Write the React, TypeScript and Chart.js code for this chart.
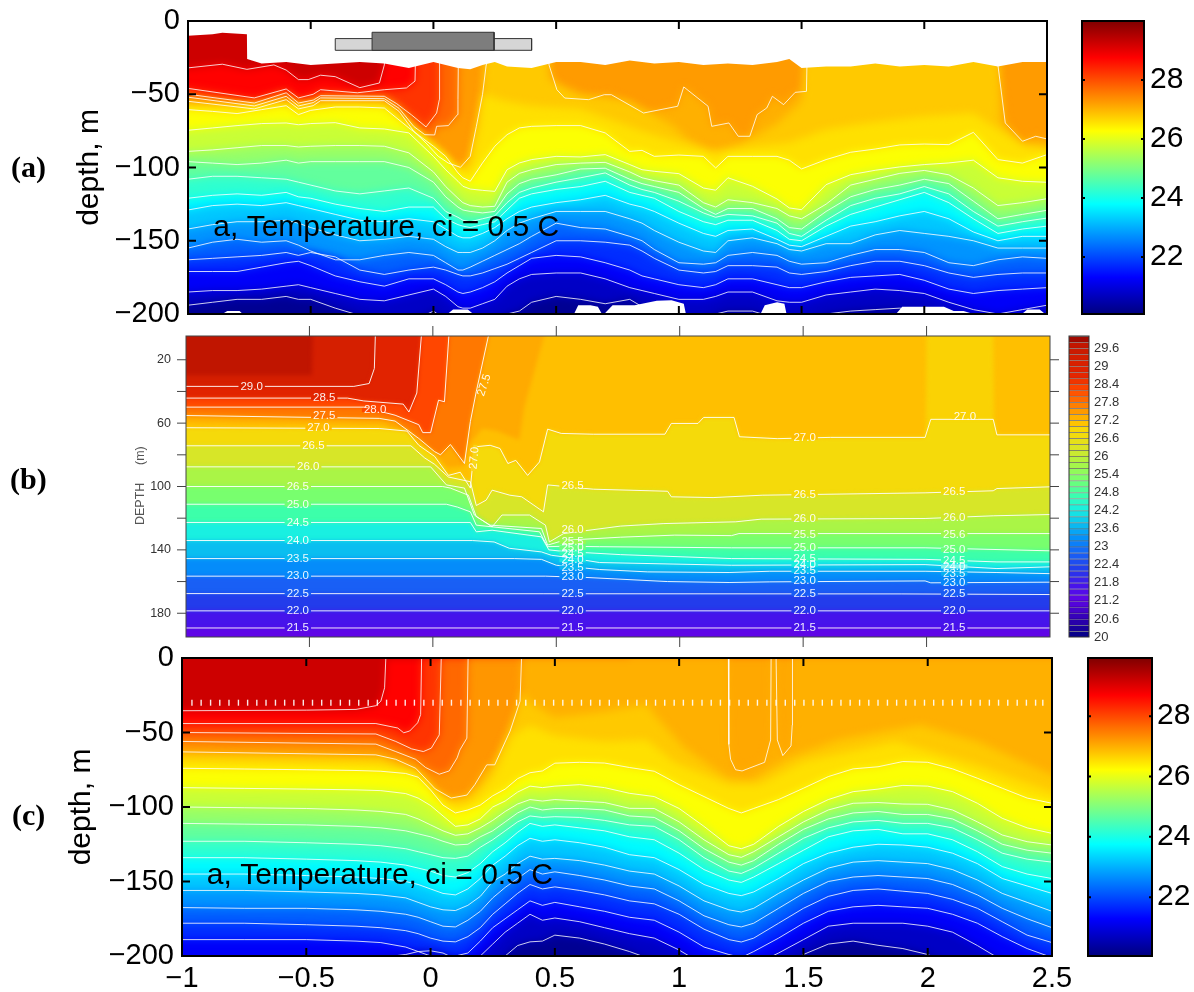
import React, { useEffect, useRef } from "react";
import { Chart, registerables } from "chart.js";

Chart.register(...registerables);

const FONT = "'Liberation Sans', Arial, sans-serif";

// ---------- shared ticks ----------
const xTickValues = [-1, -0.5, 0, 0.5, 1, 1.5, 2, 2.5];
const yTickValues = [-200, -150, -100, -50, 0];
const barTicks = [22, 24, 26, 28];
const bDepthTicks = [20, 40, 60, 80, 100, 120, 140, 160, 180];
const bDepthLabels = [20, 60, 100, 140, 180];
const bBarTicks = [20, 20.6, 21.2, 21.8, 22.4, 23, 23.6, 24.2, 24.8, 25.4, 26, 26.6, 27.2, 27.8, 28.4, 29, 29.6];
const bBarEdges = [20, 20.2, 20.4, 20.6, 20.8, 21, 21.2, 21.4, 21.6, 21.8, 22, 22.2, 22.4, 22.6, 22.8, 23, 23.2, 23.4, 23.6, 23.8, 24, 24.2, 24.4, 24.6, 24.8, 25, 25.2, 25.4, 25.6, 25.8, 26, 26.2, 26.4, 26.6, 26.8, 27, 27.2, 27.4, 27.6, 27.8, 28, 28.2, 28.4, 28.6, 28.8, 29, 29.2, 29.4, 29.6, 29.8, 30];

// ---------- panel (a): observed section ----------
const aSurfaceX = [-1, -0.9, -0.86, -0.76, -0.759, -0.7, -0.6, -0.5, -0.4, -0.3, -0.2, -0.1, 0, 0.05, 0.1, 0.15, 0.2, 0.25, 0.3, 0.4, 0.5, 0.6, 0.7, 0.8, 0.9, 1, 1.1, 1.2, 1.3, 1.4, 1.45, 1.5, 1.6, 1.7, 1.8, 1.9, 2, 2.1, 2.2, 2.3, 2.4, 2.5];
const aSurfaceD = [-10, -9, -8, -9, -26, -29, -28, -30, -29, -28, -29, -32, -28, -30, -32, -33, -30, -28, -31, -32, -28, -28, -30, -27, -29, -28, -30, -29, -30, -28, -26, -32, -31, -31, -29, -31, -30, -31, -28, -31, -28, -28];
const aHolesX = [-1, -0.87, -0.84, -0.79, -0.77, 0.05, 0.08, 0.14, 0.17, 0.57, 0.59, 0.64, 0.67, 0.69, 0.73, 0.82, 0.91, 0.97, 1.02, 1.03, 1.33, 1.35, 1.4, 1.43, 1.44, 1.88, 1.91, 2.0, 2.08, 2.12, 2.16, 2.22, 2.39, 2.42, 2.47, 2.5];
const aHolesD = [-201, -201, -198, -198, -201, -201, -197, -197, -201, -201, -194, -194, -195, -201, -194, -194, -191, -190.6, -193, -201, -201, -194, -192, -193, -201, -201, -195, -195, -195, -198, -198, -201, -201, -197, -197, -201];
const aShelfX = [-0.4, -0.4, 0.4, 0.4, -0.4];
const aShelfD = [-20, -12, -12, -20, -20];
const aRidgeX = [-0.25, -0.25, 0.247, 0.247, -0.25];
const aRidgeD = [-20, -7.7, -7.7, -20, -20];

const a290X = [-1, -0.86, -0.76, -0.65, -0.6, -0.55, -0.51, -0.46, -0.4, -0.3, -0.22, -0.2, -0.19, 2.5];
const a290D = [-32, -29.5, -33, -30, -33.5, -40, -40, -37, -38, -45.5, -42.3, -30, 0, 0];
const a285X = [-1, -0.73, -0.6, -0.55, -0.49, -0.46, -0.31, -0.2, -0.11, -0.075, -0.07, 2.5];
const a285D = [-46, -52.5, -46.4, -52.5, -50, -46.9, -49, -46.9, -45.7, -41, 0, 0];
const a280X = [-1, -0.73, -0.6, -0.55, -0.49, -0.46, -0.2, -0.15, -0.09, -0.03, 0.013, 0.024, 0.025, 2.5];
const a280D = [-50, -56, -49, -56, -54, -51, -51.4, -56.4, -64, -72.3, -62.8, -53.7, 0, 0];
const a275X = [-1, -0.73, -0.6, -0.55, -0.49, -0.46, -0.2, -0.14, -0.08, -0.035, 0.005, 0.013, 0.061, 0.098, 0.1, 0.103, 2.5];
const a275D = [-52, -58, -51.4, -58, -55.7, -52.5, -53, -59.6, -72, -77.6, -77.8, -71.9, -71.4, -63.9, -53.7, 0, 0];
const a270X = [-1, -0.73, -0.6, -0.55, -0.49, -0.46, -0.2, -0.14, -0.08, -0.03, 0.02, 0.06, 0.11, 0.15, 0.175, 0.2, 0.215, 0.216, 0.47, 0.471, 0.503, 0.535, 0.632, 0.696, 0.725, 0.856, 0.995, 1.02, 1.119, 1.134, 1.204, 1.242, 1.289, 1.319, 1.358, 1.381, 1.427, 1.474, 1.52, 1.525, 2.299, 2.3, 2.33, 2.4, 2.454, 2.5];
const a270D = [-54.8, -60, -53.7, -60, -57.8, -54.4, -54.4, -61.7, -75.3, -83.3, -92.4, -96.9, -99.9, -92.4, -71.9, -50.3, -30, 0, 0, -30, -46.9, -52.6, -53.7, -50.3, -50.3, -62.8, -58.2, -45, -58.2, -71.9, -69.6, -78.7, -78.7, -63.9, -59.4, -51.4, -57.1, -48.7, -48, 0, 0, -30, -69.6, -82.1, -78.7, -80.5];
// fill-only colour boundaries read from the orange zone
const a2685X = [-1, -0.2, -0.1, 0, 0.1, 0.15, 0.19, 0.2, 0.216, 0.46, 0.47, 0.6, 0.8, 0.98, 1.03, 1.13, 1.24, 1.4, 1.5, 1.52, 2.3, 2.31, 2.4, 2.5];
const a2685D = [-57, -57, -70, -85, -101, -95, -60, -55, 0, 0, -40, -50, -55, -72, -80, -90, -85, -70, -55, 0, 0, -70, -85, -85];
const a2665X = [-1, -0.2, -0.1, 0.1, 0.15, 0.19, 0.2, 0.3, 0.4, 0.6, 0.7, 0.85, 1, 1.15, 1.3, 1.45, 1.6, 1.75, 2, 2.2, 2.3, 2.4, 2.5];
const a2665D = [-59, -58, -72, -103, -100, -70, -50, -55, -58, -60, -66, -75, -83, -90, -85.5, -83, -74, -70, -65, -63, -74, -85, -88];

const aGridX = [-1, -0.9, -0.8, -0.7, -0.6, -0.55, -0.5, -0.4, -0.3, -0.2, -0.1, 0, 0.05, 0.1, 0.12, 0.15, 0.2, 0.25, 0.3, 0.35, 0.4, 0.5, 0.6, 0.7, 0.8, 0.85, 0.9, 1, 1.1, 1.15, 1.2, 1.3, 1.4, 1.45, 1.5, 1.6, 1.7, 1.8, 1.9, 2, 2.1, 2.2, 2.3, 2.4, 2.5];
const a265 = [-60.5, -61.7, -63.2, -60.5, -57.8, -63.9, -61, -58.7, -58.7, -59.4, -73, -85.5, -92.4, -103.7, -107, -109.4, -96.9, -85.5, -77.6, -73, -71.9, -71.4, -71.4, -76.4, -89, -88.3, -92.4, -91.5, -92.4, -100.3, -92.4, -92.4, -92.4, -95, -101, -94.6, -89.6, -87.4, -84.6, -84, -84.4, -76, -94.6, -97, -91.2];
const a260 = [-74.6, -73, -71.4, -70, -69.6, -70.8, -70, -69.4, -73, -73.7, -76.4, -92.4, -101.5, -109.4, -112.8, -114.7, -115.6, -116.3, -101.5, -96.9, -94.6, -92.4, -92.8, -91.2, -98, -101.5, -102.6, -104.2, -114, -115.5, -107, -112.8, -121.5, -127.6, -128.8, -111.7, -104.9, -101.9, -99.6, -98, -96.9, -95, -107, -109.4, -110.1];
const a255 = [-89, -88, -86.5, -85, -85, -86, -85.5, -85, -85, -85.5, -90, -103, -113, -121, -124, -126, -127, -126.5, -110, -104, -101.5, -98, -97, -96.5, -103, -107, -109, -112, -124, -127, -122, -124, -128, -133, -135, -125, -112, -108, -104, -102, -105, -114, -126, -124, -121.3];
const a250 = [-96, -97, -98, -97, -95, -97, -96, -96, -96, -96, -100, -110, -120, -127, -129, -130, -131, -130, -118, -111, -108, -105, -101, -100.5, -108, -111, -113, -117, -128, -132, -128, -128, -135, -141, -142, -130, -120, -115, -112, -108, -111, -123, -135, -132, -129.2];
const a245 = [-108, -106, -106, -107, -108, -110, -112, -116, -118, -116, -114, -121, -130, -134, -136, -137, -135, -133, -124, -117, -114, -110, -107, -103.7, -112, -115, -117, -123, -131, -134, -132, -133, -138, -145, -147, -136, -126, -121, -118, -113, -118, -130, -140, -137, -134.5];
const a240 = [-121, -119, -118, -119, -117, -120, -121, -125, -128, -130, -127, -127, -135, -139, -140, -141, -139, -137, -129, -121, -118, -115, -113, -109.4, -117, -119, -121, -130, -137, -139, -136, -136, -143, -149, -150, -140, -132, -127, -122, -117, -124, -135, -145, -142, -140];
const a235 = [-129, -126, -125, -126, -124, -126, -128, -132, -136, -137, -135, -137, -142, -147, -148, -148, -145, -141, -135, -130, -127, -124, -122, -119, -125, -127, -130, -138, -145, -147, -143, -142, -149, -153, -154, -147, -140, -137, -133, -130, -135, -144, -150, -147, -147];
const a230 = [-142, -139, -137, -137, -136, -138, -141, -146, -150, -149, -147, -149, -154, -158, -158, -158, -155, -150, -143, -138, -135, -130, -130, -130, -135, -138, -143, -151, -157, -158, -150, -148, -152, -156, -157, -152, -152, -146, -143, -145, -147, -150, -155, -155, -155];
const a225 = [-155, -151, -149, -151, -150, -153, -157, -163, -163, -160, -158, -160, -165, -170, -170, -168, -164, -160, -156, -152, -147, -138, -141, -142, -147, -150, -156, -165, -166, -165, -160, -158, -160, -164, -166, -165, -160, -156, -156, -158, -165, -167, -163, -161, -162];
const a220 = [-163, -162, -161, -160, -158, -160, -158, -161, -170, -173, -170, -168, -170, -173, -174, -174, -172, -169, -166, -162, -158, -150, -150, -151, -153, -157, -162, -170, -172, -171, -167, -167, -168, -172, -173, -171, -167, -164, -164, -167, -172, -175, -173, -172, -172];
const a215 = [-171, -171, -171, -168, -165, -164, -167, -174, -178, -181, -176, -176, -180, -185, -186, -185, -182, -178, -172, -167, -162, -160, -161, -165, -170, -174, -176, -180, -182, -180, -176, -176, -180, -182, -182, -178, -175, -174, -173, -177, -183, -186, -184, -183, -182];
const a210 = [-185, -184, -184, -183, -181, -180, -182, -186, -190, -191, -187, -183, -188, -195, -196, -196, -193, -190, -181, -176, -173, -172, -172, -176, -182, -184, -186, -190, -190, -188, -185, -185, -191, -192, -192, -187, -185, -183, -184, -186, -192, -197, -200, -197, -194];
const a205 = [-194, -192, -190, -190, -188, -190, -190, -196, -201, -205, -206, -198, -204, -210, -212, -212, -210, -205, -200, -198, -192, -188, -190, -193, -190, -195, -198, -204, -204, -200, -198, -198, -203, -205, -205, -200, -198, -197, -196, -198, -205, -210, -212, -210, -208];

// ---------- panel (b): model section ----------
const b2950X = [-1, -0.49, -0.485, 2.5];
const b2950D = [29.7, 29.7, 0, 0];
const b290X = [-1, -0.32, -0.258, -0.237, -0.232, 2.5];
const b290D = [36.8, 36.8, 35, 25.5, 0, 0];
const b285X = [-1, -0.346, -0.28, -0.12, -0.097, -0.065, -0.044, 2.5];
const b285D = [44.2, 44.2, 46, 48, 53, 41, 0, 0];
const b280X = [-1, -0.28, -0.153, -0.057, -0.041, -0.009, 0.023, 0.047, 0.067, 2.5];
const b280D = [49.9, 49.9, 55, 61, 66, 66, 45.5, 46.5, 0, 0];
const b275X = [-1, -0.217, -0.153, -0.057, 0.007, 0.031, 0.071, 0.128, 0.152, 0.176, 0.232, 2.5];
const b275D = [55.2, 57, 58.7, 69.7, 78, 80, 73.5, 85.5, 59, 40, 0, 0];
const b2725X = [-1, -0.2, -0.057, 0.007, 0.06, 0.13, 0.15, 0.2, 0.26, 0.35, 0.37, 0.46, 2.5];
const b2725D = [59, 60.5, 72, 80, 88, 87, 73, 63.4, 65, 70.7, 50, 0, 0];
const b2705X = [-1, 1.99, 2, 2.27, 2.28, 2.5];
const b2705D = [190, 190, 0, 0, 190, 190];
const b270X = [-1, -0.217, -0.105, -0.057, 0.007, 0.063, 0.111, 0.152, 0.168, 0.232, 0.272, 0.304, 0.336, 0.384, 0.432, 0.465, 0.52, 0.65, 0.94, 0.966, 1.074, 1.097, 1.22, 1.242, 1.395, 1.61, 1.994, 2.017, 2.27, 2.285, 2.5];
const b270D = [62.9, 63.4, 65, 74, 81, 93, 91, 101, 75, 74, 76, 85.5, 83.5, 93, 84.5, 63.8, 66.5, 67, 67, 60.2, 60.2, 56.4, 56.4, 68.6, 69.8, 69, 69, 57.6, 57.6, 67.4, 67.4];
const b265X = [-1, -0.089, -0.033, 0.007, 0.063, 0.152, 0.176, 0.216, 0.24, 0.312, 0.36, 0.448, 0.465, 0.65, 0.951, 0.966, 1.135, 1.334, 1.994, 2.27, 2.285, 2.5];
const b265D = [74.3, 74.3, 82, 86, 94, 97, 112, 108.6, 102.3, 105.5, 106.5, 116, 99, 101.7, 103, 106.5, 107, 105.5, 104, 102.7, 101.3, 100.2];
const b260X = [-1, -0.009, 0.055, 0.128, 0.168, 0.24, 0.28, 0.392, 0.456, 0.472, 0.53, 0.76, 0.936, 1.227, 1.33, 1.994, 2.27, 2.5];
const b260D = [87.6, 87.6, 99, 101, 118, 125.5, 118, 118, 124.4, 135, 129.7, 125, 123.4, 122.3, 120.6, 120.2, 118.5, 117.7];
const b255X = [-1, 0.04, 0.071, 0.144, 0.176, 0.232, 0.44, 0.465, 0.53, 0.76, 0.98, 1.21, 1.24, 2.5];
const b255D = [100, 100, 101, 105.5, 119, 124.4, 126.5, 137, 134, 132, 130.7, 131, 129.7, 129.7];
const b250X = [-1, 0.055, 0.1, 0.152, 0.176, 0.432, 0.465, 0.53, 0.675, 1.21, 1.994, 2.5];
const b250D = [111.2, 111.2, 113, 116, 124.4, 128.6, 138, 137.7, 138, 138.7, 138.7, 140.6];
const b245X = [-1, 0.152, 0.176, 0.24, 0.44, 0.47, 0.53, 0.76, 1.21, 1.994, 2.285, 2.5];
const b245D = [122.7, 122.7, 128.6, 127.6, 131.8, 140, 141, 143, 145.5, 146, 147.6, 147.6];
const b240X = [-1, 0.16, 0.248, 0.31, 0.44, 0.48, 0.53, 0.675, 1.21, 1.994, 2.285, 2.5];
const b240D = [134.1, 134.1, 135, 139, 141.3, 143.4, 144.4, 148, 149.7, 149.3, 151.8, 150.7];
const b235X = [-1, 0.33, 0.44, 0.5, 0.675, 0.87, 1.2, 1.365, 1.994, 2.285, 2.5];
const b235D = [145.5, 145.5, 146, 149.7, 152.4, 153.9, 154.3, 153.5, 153.5, 154.3, 155];
const b230X = [-1, 0.457, 0.62, 0.95, 1.2, 1.365, 1.994, 2.017, 2.5];
const b230D = [156.6, 156.6, 157.4, 160, 160.6, 160.2, 159.6, 160.8, 160.4];
const b225X = [-1, 1.9, 2.5];
const b225D = [167.6, 167.8, 168.2];
const b220X = [-1, 2.5];
const b220D = [178.5, 178.5];
const b215X = [-1, 2.5];
const b215D = [189.3, 189.3];

const bLabelText = ["29.0", "28.5", "28.0", "27.5", "27.0", "26.5", "26.0", "26.5", "25.0", "24.5", "24.0", "23.5", "23.0", "22.5", "22.0", "21.5",
  "26.5", "26.0", "25.5", "25.0", "24.5", "24.0", "23.5", "23.0", "22.5", "22.0", "21.5",
  "27.0", "26.5", "26.0", "25.5", "25.0", "24.5", "24.0", "23.5", "23.0", "22.5", "22.0", "21.5",
  "27.0", "26.5", "26.0", "25.6", "25.0", "24.5", "24.0", "23.5", "23.0", "22.5", "22.0", "21.5",
  "27.5", "27.0"];
const bLabelX = [-0.734, -0.44, -0.234, -0.44, -0.463, -0.484, -0.505, -0.547, -0.547, -0.547, -0.547, -0.547, -0.547, -0.547, -0.547, -0.547,
  0.566, 0.566, 0.566, 0.566, 0.566, 0.566, 0.566, 0.566, 0.566, 0.566, 0.566,
  1.506, 1.506, 1.506, 1.506, 1.506, 1.506, 1.506, 1.506, 1.506, 1.506, 1.506, 1.506,
  2.155, 2.112, 2.112, 2.112, 2.112, 2.112, 2.112, 2.112, 2.112, 2.112, 2.112, 2.112,
  0.208, 0.168];
const bLabelD = [36.8, 44.2, 51.8, 55.6, 63.2, 74.3, 87.6, 100, 111.4, 122.8, 134.2, 145.4, 156.6, 167.6, 178.5, 189.3,
  99.6, 127.6, 135, 138.7, 142.3, 146.5, 151.2, 157, 167.6, 178.5, 189.3,
  69, 105, 120.6, 130.3, 138.5, 145.5, 149.3, 153.3, 159.4, 167.8, 178.5, 189.3,
  56, 103.6, 119.6, 130.3, 140, 147, 150.5, 155, 161, 168, 178.5, 189.3,
  36, 82];
const bLabelAngle = [-72, -85]; // last two labels run along steep contours

const bStopT = [20, 20.5, 21.25, 21.75, 22.25, 22.75, 23.25, 23.75, 24.25, 24.75, 25.25, 25.75, 26.25, 26.75, 27, 27.1, 27.4, 27.75, 28.25, 28.75, 29.35, 29.8, 30];
const bStopR = [0, 40, 95, 70, 35, 25, 5, 10, 25, 60, 120, 170, 215, 245, 248, 255, 255, 255, 255, 225, 210, 190, 130];
const bStopG = [0, 0, 5, 20, 60, 95, 140, 190, 240, 255, 255, 245, 230, 218, 215, 195, 168, 120, 70, 35, 30, 20, 0];
const bStopB = [130, 170, 230, 235, 235, 245, 250, 240, 225, 170, 110, 70, 40, 10, 5, 0, 0, 0, 0, 0, 0, 0, 0];

// ---------- panel (c): simulated section ----------
const cDotsX = [-0.96, -0.923, -0.885, -0.848, -0.811, -0.773, -0.736, -0.699, -0.662, -0.624, -0.587, -0.55, -0.512, -0.475, -0.438, -0.401, -0.363, -0.326, -0.289, -0.251, -0.214, -0.177, -0.139, -0.102, -0.065, -0.027, 0.01, 0.047, 0.084, 0.122, 0.159, 0.196, 0.234, 0.271, 0.308, 0.346, 0.383, 0.42, 0.457, 0.495, 0.532, 0.569, 0.607, 0.644, 0.681, 0.719, 0.756, 0.793, 0.83, 0.868, 0.905, 0.942, 0.98, 1.017, 1.054, 1.092, 1.129, 1.166, 1.203, 1.241, 1.278, 1.315, 1.353, 1.39, 1.427, 1.465, 1.502, 1.539, 1.576, 1.614, 1.651, 1.688, 1.726, 1.763, 1.8, 1.838, 1.875, 1.912, 1.949, 1.987, 2.024, 2.061, 2.099, 2.136, 2.173, 2.211, 2.248, 2.285, 2.322, 2.36, 2.397, 2.434, 2.463];
const cDotDepth = -30;

const c290X = [-1, -0.5, -0.3, -0.22, -0.2, -0.185, -0.18, 2.5];
const c290D = [-35.4, -35, -34.5, -32, -29, -20, 0, 0];
const c285X = [-1, -0.22, -0.132, -0.108, -0.084, -0.052, -0.04, -0.036, 2.5];
const c285D = [-44, -44, -47, -50.2, -49, -43.5, -38, 0, 0];
const c280X = [-1, -0.22, -0.14, -0.076, -0.029, 0.003, 0.035, 0.043, 2.5];
const c280D = [-50, -51, -56, -61, -62.8, -60.5, -51.6, 0, 0];
const c275X = [-1, -0.22, -0.14, -0.06, -0.02, 0.035, 0.075, 0.107, 0.118, 0.146, 0.151, 2.5];
const c275D = [-56, -57.8, -62.8, -68, -73.5, -78, -75.8, -67, -61.7, -53.8, 0, 0];
// east of the front the warm pools inside the 27.0 line are nearly the colour around them
const c2710X = [-1, 0.8, 0.801, 2.5];
const c2710D = [-400, -400, 0, 0];
const c270X = [-1, -0.22, -0.14, -0.06, 0.019, 0.083, 0.146, 0.178, 0.226, 0.258, 0.32, 0.36, 0.366, 1.198, 1.2, 1.207, 1.227, 1.253, 1.344, 1.368, 1.37, 1.39, 1.395, 1.417, 1.45, 1.455, 1.456, 2.5];
const c270D = [-63, -65, -68, -74, -87.9, -94, -92, -85, -71.7, -71.7, -49, -29, 0, 0, -58, -68, -75, -75.8, -70, -55, 0, 0, -55, -65.5, -59, -45, 0, 0];
const c2685X = [-1, -0.2, -0.06, 0.02, 0.08, 0.15, 0.2, 0.25, 0.3, 0.36, 0.366, 0.4, 0.5, 0.7, 0.87, 0.9, 1.02, 1.2, 1.29, 1.44, 1.64, 1.97, 2.2, 2.5];
const c2685D = [-65, -68, -76, -90, -96, -94, -86, -73, -55, -30, -22, -30, -40, -36, -31, -38, -60, -81, -82, -67, -55, -45, -56, -78.5];
const c2665X = [-1, -0.2, -0.06, 0.02, 0.08, 0.15, 0.2, 0.258, 0.33, 0.4, 0.5, 0.7, 0.87, 0.98, 1.2, 1.32, 1.5, 1.87, 2.2, 2.5];
const c2665D = [-68, -70, -78, -92, -98, -97, -90, -78, -52, -45, -52, -56, -55, -70, -85, -85, -69.5, -56, -72, -90];

const cGridX = [-1, -0.75, -0.5, -0.3, -0.2, -0.1, -0.05, 0, 0.05, 0.1, 0.15, 0.2, 0.25, 0.3, 0.35, 0.4, 0.45, 0.5, 0.6, 0.7, 0.8, 0.9, 1, 1.1, 1.2, 1.25, 1.3, 1.4, 1.5, 1.6, 1.7, 1.8, 1.9, 2, 2.1, 2.2, 2.3, 2.4, 2.5];
const c265 = [-74, -74.5, -75, -75.5, -76, -77.5, -80, -88.6, -98.7, -104, -102, -98.7, -92.5, -88, -81, -77, -75.8, -70.6, -70, -70.5, -73.5, -76, -85, -93, -101, -104, -101, -95, -87.4, -79.6, -74.4, -73, -69.5, -70, -74.4, -80.7, -87.4, -94, -97.5];
const c260 = [-87, -87.5, -88, -88.5, -89, -91, -94, -99, -106, -113, -112, -108, -100, -96, -90, -86, -87, -86, -85, -87, -90.8, -93, -101, -113, -126, -128, -125, -113, -103, -95, -89.7, -88, -85.5, -86, -89.7, -97.5, -107.6, -114, -117.7];
const c255 = [-100, -100.5, -101, -102, -103, -105, -108, -112, -116, -119, -118, -114, -109, -103, -98, -95, -96, -95, -96, -97, -100.9, -101, -110, -122, -132, -133.8, -130, -120, -110, -102, -97.5, -97, -98, -98.2, -102, -110, -118.8, -123.3, -125.5];
const c250 = [-111, -111.5, -112, -113, -114, -116, -118, -120, -123, -125.5, -125, -120, -116, -110, -104, -100, -102, -101, -101, -102, -106, -107, -116, -128, -137, -139, -136, -125, -115, -108, -104, -103, -105, -105, -108, -116, -125, -129, -131];
const c245 = [-123, -123, -124, -125, -126, -128, -130, -132, -134, -134.5, -133, -127, -122, -116, -110, -106, -107, -106.5, -107, -109, -112, -113, -122, -134, -143, -144.6, -141, -131, -121, -114, -110, -109, -111, -111, -114, -122, -131, -135, -137];
const c240 = [-134, -134, -135, -136, -137, -139, -141, -143, -146, -147, -144, -138, -130, -124, -117, -111, -113, -112, -114, -116, -120, -122, -131, -142, -149, -150.6, -147, -138, -129, -120, -116, -115, -118, -118, -122, -130, -140, -145, -148];
const c235 = [-145, -145, -146, -147, -148, -150, -152, -155, -158, -159, -155, -148, -139, -133, -126, -121, -123, -122, -124, -127, -132, -134, -142, -152, -158, -159.5, -157, -148, -138, -131, -127, -125, -125.5, -127, -131, -138, -148, -153, -158];
const c230 = [-156, -156, -157, -158, -159, -161, -164, -167, -169, -169.5, -166, -160, -150, -145, -138, -133, -135, -134.5, -136, -139, -143, -145, -153, -163, -169, -170.5, -168, -158, -149, -141, -137, -136, -137, -138, -142, -149, -158, -164, -170];
const c225 = [-167.5, -168, -168, -169, -170, -172, -174, -177, -180, -180.5, -176, -170, -161, -154, -148, -142, -145, -143.5, -146, -149, -153, -155, -163, -173, -179, -180.5, -178, -168, -158, -150, -147, -146, -147, -148, -152, -159, -168, -175, -181];
const c220 = [-178, -178, -179, -180, -181, -183, -185, -188, -190, -190.5, -187, -181, -172, -165, -158, -152, -155, -153.6, -156, -159, -163, -165, -172, -182, -189, -190.6, -188, -178, -168, -160, -156, -155, -156.5, -158, -162, -168, -177, -186, -191];
const c215 = [-189, -189, -189, -190, -191, -194, -197, -200, -202, -200, -198, -190, -181, -175, -169, -163, -166, -164, -167, -170, -174, -176, -184, -194, -199, -201, -197, -188, -178, -170, -167, -166, -167, -168, -172, -178, -187, -195, -201];
const c210 = [-210, -208, -206, -204, -201, -199, -197, -196.5, -198, -202, -206, -200, -192, -184, -178, -172, -176, -174.5, -177, -181, -185, -188, -196, -206, -210, -212, -206, -198, -189, -180, -178, -178, -178, -180, -184, -193, -203, -208, -212];
const c205 = [-230, -230, -230, -230, -230, -230, -230, -230, -230, -230, -225, -215, -208, -200, -193, -190.5, -190, -186, -188, -192, -197, -203, -212, -220, -225, -225, -222, -210, -199, -192, -190, -192.8, -195, -199, -206, -220, -230, -230, -230];

// ---------- tables the charts are built from ----------
type Contour = { level: number; x: number[]; d: number[]; line?: boolean; band?: number };

const aContours: Contour[] = [
  { level: 29, x: a290X, d: a290D, line: true }, { level: 28.5, x: a285X, d: a285D, line: true },
  { level: 28, x: a280X, d: a280D, line: true }, { level: 27.5, x: a275X, d: a275D, line: true },
  { level: 27, x: a270X, d: a270D, line: true, band: 27.05 }, { level: 26.85, x: a2685X, d: a2685D, band: 26.8 },
  { level: 26.65, x: a2665X, d: a2665D, band: 26.58 }, { level: 26.5, x: aGridX, d: a265, line: true },
  { level: 26, x: aGridX, d: a260, line: true }, { level: 25.5, x: aGridX, d: a255, line: true },
  { level: 25, x: aGridX, d: a250, line: true }, { level: 24.5, x: aGridX, d: a245, line: true },
  { level: 24, x: aGridX, d: a240, line: true }, { level: 23.5, x: aGridX, d: a235, line: true },
  { level: 23, x: aGridX, d: a230, line: true }, { level: 22.5, x: aGridX, d: a225, line: true },
  { level: 22, x: aGridX, d: a220, line: true }, { level: 21.5, x: aGridX, d: a215, line: true },
  { level: 21, x: aGridX, d: a210, line: true }, { level: 20.5, x: aGridX, d: a205, line: true },
];
const cContours: Contour[] = [
  { level: 29, x: c290X, d: c290D, line: true }, { level: 28.5, x: c285X, d: c285D, line: true },
  { level: 28, x: c280X, d: c280D, line: true }, { level: 27.5, x: c275X, d: c275D, line: true },
  { level: 27.1, x: c2710X, d: c2710D, band: 27.12 },
  { level: 27, x: c270X, d: c270D, line: true, band: 27.05 }, { level: 26.85, x: c2685X, d: c2685D, band: 26.8 },
  { level: 26.65, x: c2665X, d: c2665D, band: 26.58 }, { level: 26.5, x: cGridX, d: c265, line: true },
  { level: 26, x: cGridX, d: c260, line: true }, { level: 25.5, x: cGridX, d: c255, line: true },
  { level: 25, x: cGridX, d: c250, line: true }, { level: 24.5, x: cGridX, d: c245, line: true },
  { level: 24, x: cGridX, d: c240, line: true }, { level: 23.5, x: cGridX, d: c235, line: true },
  { level: 23, x: cGridX, d: c230, line: true }, { level: 22.5, x: cGridX, d: c225, line: true },
  { level: 22, x: cGridX, d: c220, line: true }, { level: 21.5, x: cGridX, d: c215, line: true },
  { level: 21, x: cGridX, d: c210, line: true }, { level: 20.5, x: cGridX, d: c205, line: true },
];
const bContours: Contour[] = [
  { level: 29.5, x: b2950X, d: b2950D }, { level: 29, x: b290X, d: b290D, line: true },
  { level: 28.5, x: b285X, d: b285D, line: true }, { level: 28, x: b280X, d: b280D, line: true },
  { level: 27.5, x: b275X, d: b275D, line: true }, { level: 27.25, x: b2725X, d: b2725D },
  { level: 27.05, x: b2705X, d: b2705D }, { level: 27, x: b270X, d: b270D, line: true },
  { level: 26.5, x: b265X, d: b265D, line: true }, { level: 26, x: b260X, d: b260D, line: true },
  { level: 25.5, x: b255X, d: b255D, line: true }, { level: 25, x: b250X, d: b250D, line: true },
  { level: 24.5, x: b245X, d: b245D, line: true }, { level: 24, x: b240X, d: b240D, line: true },
  { level: 23.5, x: b235X, d: b235D, line: true }, { level: 23, x: b230X, d: b230D, line: true },
  { level: 22.5, x: b225X, d: b225D, line: true }, { level: 22, x: b220X, d: b220D, line: true },
  { level: 21.5, x: b215X, d: b215D, line: true },
];

// ---------- colours ----------
const clamp01 = (v: number) => Math.max(0, Math.min(1, v));
function jet(T: number, lo = 20.07, hi = 30) {
  const t = clamp01((T - lo) / (hi - lo));
  const r = clamp01(1.5 - Math.abs(4 * t - 3));
  const g = clamp01(1.5 - Math.abs(4 * t - 2));
  const b = clamp01(1.5 - Math.abs(4 * t - 1));
  return `rgb(${Math.round(r * 255)},${Math.round(g * 255)},${Math.round(b * 255)})`;
}
function stopColor(T: number) {
  let i = 0;
  while (i < bStopT.length - 2 && T > bStopT[i + 1]) i++;
  const f = clamp01((T - bStopT[i]) / (bStopT[i + 1] - bStopT[i]));
  const m = (a: number[]) => Math.round(a[i] + (a[i + 1] - a[i]) * f);
  return `rgb(${m(bStopR)},${m(bStopG)},${m(bStopB)})`;
}

// ---------- dataset builders ----------
function extended(x: number[], d: number[]) {
  const pts = x.map((v, i) => ({ x: v, y: d[i] })).filter((p) => p.y !== undefined);
  return [{ x: x[0] - 0.4, y: pts[0].y }, ...pts, { x: x[x.length - 1] + 0.4, y: pts[pts.length - 1].y }];
}
const raw = (x: number[], d: number[]) => x.map((v, i) => ({ x: v, y: d[i] }));

function fillSet(data: any[], color: string, floor: number) {
  return { data, fill: { value: floor }, backgroundColor: color, borderWidth: 0, borderColor: "transparent", pointRadius: 0, tension: 0 };
}
function contourSets(contours: Contour[], color: (T: number) => string, floor: number, ceiling: number) {
  const sets: any[] = [fillSet([{ x: -1.5, y: ceiling }, { x: 3, y: ceiling }], color(contours[0].level + 0.25), floor)];
  contours.forEach((c, i) => {
    const next = contours[i + 1] ? contours[i + 1].level : c.level - 0.5;
    sets.push(fillSet(extended(c.x, c.d), color(c.band ?? (c.level + next) / 2), floor));
  });
  return sets;
}
function lineSets(contours: Contour[], color: string, width: number) {
  return contours.filter((c) => c.line).map((c) => ({
    data: extended(c.x, c.d), fill: false, borderColor: color, borderWidth: width, pointRadius: 0, tension: 0,
  }));
}
function outlinedBox(x: number[], d: number[], color: string) {
  return [
    fillSet(raw(x.slice(0, 4), d.slice(0, 4)), color, d[0]),
    { data: raw(x, d), fill: false, borderColor: "#333", borderWidth: 1, pointRadius: 0, tension: 0 },
  ];
}
function withOrder(sets: any[]) {
  return sets.map((s, i) => ({ ...s, order: sets.length - i }));
}

// ---------- plugins ----------
function softFill(lastFillIndex: number, radius: number) {
  return {
    id: "softFill",
    beforeDatasetsDraw(chart: any) { chart.ctx.filter = `blur(${radius}px)`; },
    afterDatasetDraw(chart: any, args: any) { if (args.index === lastFillIndex) chart.ctx.filter = "none"; },
    afterDatasetsDraw(chart: any) { chart.ctx.filter = "none"; },
  };
}
function frame(o: { color: string; width: number; len: number; out?: boolean; xLen?: number }) {
  return {
    id: "frame",
    afterDraw(chart: any) {
      const { ctx, chartArea: a, scales } = chart;
      ctx.save();
      ctx.strokeStyle = o.color;
      ctx.lineWidth = o.width;
      ctx.beginPath();
      const sign = o.out ? -1 : 1;
      const xLen = o.xLen ?? o.len;
      const xt = (scales.x.ticks || []);
      if (scales.x.type === "linear") {
        xt.forEach((t: any) => {
          const p = scales.x.getPixelForValue(t.value);
          if (p <= a.left + 1 || p >= a.right - 1) return;
          ctx.moveTo(p, a.top); ctx.lineTo(p, a.top + sign * xLen);
          ctx.moveTo(p, a.bottom); ctx.lineTo(p, a.bottom - sign * xLen);
        });
      }
      scales.y.ticks.forEach((t: any) => {
        const p = scales.y.getPixelForValue(t.value);
        if (p <= a.top + 1 || p >= a.bottom - 1) return;
        ctx.moveTo(a.left, p); ctx.lineTo(a.left + sign * o.len, p);
        ctx.moveTo(a.right, p); ctx.lineTo(a.right - sign * o.len, p);
      });
      ctx.stroke();
      ctx.strokeRect(a.left, a.top, a.right - a.left, a.bottom - a.top);
      ctx.restore();
    },
  };
}
function caption(text: string, xValue: number, yValue: number) {
  return {
    id: "caption",
    afterDatasetsDraw(chart: any) {
      const { ctx, scales } = chart;
      ctx.save();
      ctx.font = `30px ${FONT}`;
      ctx.fillStyle = "#000";
      ctx.textBaseline = "alphabetic";
      ctx.fillText(text, scales.x.getPixelForValue(xValue), scales.y.getPixelForValue(yValue));
      ctx.restore();
    },
  };
}
const contourLabels = {
  id: "contourLabels",
  afterDatasetsDraw(chart: any) {
    const { ctx, scales } = chart;
    ctx.save();
    ctx.font = `11.5px ${FONT}`;
    ctx.textAlign = "center";
    ctx.textBaseline = "middle";
    bLabelText.forEach((text, i) => {
      const px = scales.x.getPixelForValue(bLabelX[i]);
      const py = scales.y.getPixelForValue(bLabelD[i]);
      const angleIdx = i - (bLabelText.length - bLabelAngle.length);
      const angle = angleIdx >= 0 ? bLabelAngle[angleIdx] : 0;
      const w = ctx.measureText(text).width + 4;
      const sample = ctx.getImageData(Math.round(px), Math.round(py - 4), 1, 1).data;
      ctx.save();
      ctx.translate(px, py);
      ctx.rotate((angle * Math.PI) / 180);
      ctx.fillStyle = `rgb(${sample[0]},${sample[1]},${sample[2]})`;
      ctx.fillRect(-w / 2, -2, w, 4);
      ctx.fillStyle = "rgba(255,255,255,0.92)";
      ctx.fillText(text, 0, 0);
      ctx.restore();
    });
    ctx.restore();
  },
};

// ---------- option builders ----------
const minusLabel = (v: any) => (Number(v) < 0 ? "\u2212" + Math.abs(Number(v)) : String(v));
const fixedTicks = (values: number[]) => (s: any) => { s.ticks = values.map((value) => ({ value })); };
// keep the plot area where the layout puts it: tick labels may overhang it
const noOverhang = (s: any) => { s.paddingTop = 0; s.paddingBottom = 0; s.paddingLeft = 0; s.paddingRight = 0; };

function sectionOptions(o: any) {
  return {
    responsive: false, animation: false as const,
    layout: { padding: o.padding, autoPadding: false },
    plugins: { legend: { display: false }, tooltip: { enabled: false } },
    scales: {
      x: {
        type: "linear", min: -1, max: 2.5, display: o.xDisplay,
        afterBuildTicks: fixedTicks(xTickValues),
        afterFit: (s: any) => { noOverhang(s); if (o.xDisplay) s.height = o.xHeight; },
        grid: { display: false, drawTicks: false }, border: { display: false },
        ticks: { font: { family: FONT, size: 29 }, color: "#000", padding: 6, maxRotation: 0, autoSkip: false, callback: minusLabel },
      },
      y: o.y,
    },
  };
}
function depthAxis(width: number, titlePad: number) {
  return {
    type: "linear", min: -200, max: 0,
    afterBuildTicks: fixedTicks(yTickValues),
    afterFit: (s: any) => { noOverhang(s); s.width = width; },
    grid: { display: false, drawTicks: false }, border: { display: false },
    ticks: { font: { family: FONT, size: 29 }, color: "#000", padding: 8, autoSkip: false, callback: minusLabel },
    title: { display: true, text: "depth, m", color: "#000", font: { family: FONT, size: 30 }, padding: { top: titlePad, bottom: 0 } },
  };
}
function barOptions(o: any) {
  return {
    responsive: false, animation: false as const,
    layout: { padding: o.padding, autoPadding: false },
    plugins: { legend: { display: false }, tooltip: { enabled: false } },
    scales: {
      x: { display: false, grid: { display: false } },
      y: {
        type: "linear", position: "right", min: o.min, max: o.max,
        afterBuildTicks: fixedTicks(o.ticks),
        afterFit: (s: any) => { noOverhang(s); s.width = o.width; },
        grid: { display: false, drawTicks: false }, border: { display: false },
        ticks: { font: { family: FONT, size: o.size }, color: o.color, padding: o.tickPad, autoSkip: false, callback: (v: any) => String(v) },
      },
    },
  };
}
function jetBar(lo: number, hi: number) {
  return {
    data: [[lo, hi]], barPercentage: 1, categoryPercentage: 1, borderWidth: 0,
    backgroundColor: (ctx: any) => {
      const a = ctx.chart.chartArea;
      if (!a) return "#000";
      const g = ctx.chart.ctx.createLinearGradient(0, a.bottom, 0, a.top);
      for (let i = 0; i <= 64; i++) g.addColorStop(i / 64, jet(lo + ((hi - lo) * i) / 64, lo, hi));
      return g;
    },
  };
}

// ---------- the figure ----------
const boxes = {
  a: { left: 0, top: 0, width: 1060, height: 330 },
  aBar: { left: 1070, top: 0, width: 124, height: 330 },
  b: { left: 0, top: 322, width: 1062, height: 330 },
  bBar: { left: 1060, top: 322, width: 134, height: 330 },
  c: { left: 0, top: 640, width: 1084, height: 352 },
  cBar: { left: 1076, top: 640, width: 118, height: 352 },
};
const panelTags = [
  { text: "(a)", left: 11, top: 150 },
  { text: "(b)", left: 10, top: 462 },
  { text: "(c)", left: 12, top: 798 },
];
const bAxisWords = [
  { text: "DEPTH", left: 133, top: 525 },
  { text: "(m)", left: 133, top: 465 },
];

export default function App() {
  const refs = {
    a: useRef<HTMLCanvasElement>(null), aBar: useRef<HTMLCanvasElement>(null),
    b: useRef<HTMLCanvasElement>(null), bBar: useRef<HTMLCanvasElement>(null),
    c: useRef<HTMLCanvasElement>(null), cBar: useRef<HTMLCanvasElement>(null),
  };

  useEffect(() => {
    const charts: Chart[] = [];
    const black = { color: "#000", width: 2, len: 8 };

    // panel (a)
    const aFills = contourSets(aContours, (T) => jet(T), -400, 60);
    const aSets = withOrder([
      ...aFills,
      ...lineSets(aContours, "rgba(255,255,255,0.8)", 1),
      fillSet(extended(aSurfaceX, aSurfaceD), "#fff", 100),
      fillSet(extended(aHolesX, aHolesD), "#fff", -400),
      ...outlinedBox(aShelfX, aShelfD, "#d6d6d6"),
      ...outlinedBox(aRidgeX, aRidgeD, "#7d7d7d"),
    ]);
    charts.push(new Chart(refs.a.current!, {
      type: "line", data: { datasets: aSets },
      options: sectionOptions({ padding: { left: 70, right: 13, top: 21, bottom: 16 }, xDisplay: false, y: depthAxis(118, 2) }) as any,
      plugins: [softFill(aFills.length - 1, 4), caption("a, Temperature, ci = 0.5 C", -0.897, -147), frame(black)],
    } as any));
    charts.push(new Chart(refs.aBar.current!, {
      type: "bar", data: { labels: [""], datasets: [jetBar(20.07, 30)] },
      options: barOptions({ padding: { left: 12, top: 21, bottom: 16 }, min: 20.07, max: 30, ticks: barTicks, width: 50, size: 30, color: "#000", tickPad: 6 }) as any,
      plugins: [frame({ color: "#000", width: 2, len: 3 })],
    } as any));

    // panel (b)
    const bFills = contourSets(bContours, stopColor, 400, -60);
    const bSets = withOrder([...bFills, ...lineSets(bContours, "rgba(255,255,255,0.9)", 1)]);
    charts.push(new Chart(refs.b.current!, {
      type: "line", data: { datasets: bSets },
      options: sectionOptions({
        padding: { left: 0, right: 12, top: 14, bottom: 15 }, xDisplay: false,
        y: {
          type: "linear", min: 5, max: 195, reverse: true,
          afterBuildTicks: fixedTicks(bDepthTicks),
          afterFit: (s: any) => { noOverhang(s); s.width = 186; },
          grid: { display: false, drawTicks: false }, border: { display: false },
          ticks: { font: { family: FONT, size: 12.5 }, color: "#333", padding: 15, autoSkip: false, callback: (v: any) => (bDepthLabels.includes(Number(v)) ? String(v) : "") },
        },
      }) as any,
      plugins: [softFill(bFills.length - 1, 2), contourLabels, frame({ color: "#444", width: 1, len: 9, out: true, xLen: 10 })],
    } as any));
    const bBarSets = bBarEdges.slice(0, -1).map((lo, i) => ({
      data: [[lo, bBarEdges[i + 1]]], grouped: false, barPercentage: 1, categoryPercentage: 1,
      backgroundColor: stopColor((lo + bBarEdges[i + 1]) / 2), borderColor: "rgba(0,0,0,0.45)", borderWidth: { top: 1, bottom: 0, left: 0, right: 0 },
    }));
    charts.push(new Chart(refs.bBar.current!, {
      type: "bar", data: { labels: [""], datasets: bBarSets },
      options: barOptions({ padding: { left: 9, top: 14, bottom: 15 }, min: 20, max: 30, ticks: bBarTicks, width: 105, size: 13, color: "#333", tickPad: 5 }) as any,
      plugins: [frame({ color: "#333", width: 1, len: 0 })],
    } as any));

    // panel (c)
    const cFills = contourSets(cContours, (T) => jet(T), -400, 60);
    const cSets = withOrder([
      ...cFills,
      ...lineSets(cContours, "rgba(255,255,255,0.8)", 1),
      { data: cDotsX.map((x) => ({ x, y: cDotDepth })), showLine: false, pointStyle: "line", rotation: 90, pointRadius: 3, pointBorderColor: "rgba(255,255,255,0.9)", pointBorderWidth: 1.4, borderColor: "#fff", fill: false },
    ]);
    charts.push(new Chart(refs.c.current!, {
      type: "line", data: { datasets: cSets },
      options: sectionOptions({ padding: { left: 62, right: 32, top: 18, bottom: 0 }, xDisplay: true, xHeight: 36, y: depthAxis(120, 2) }) as any,
      plugins: [softFill(cFills.length - 1, 4), caption("a, Temperature, ci = 0.5 C", -0.9, -152), frame(black)],
    } as any));
    charts.push(new Chart(refs.cBar.current!, {
      type: "bar", data: { labels: [""], datasets: [jetBar(20.05, 29.93)] },
      options: barOptions({ padding: { left: 12, top: 18, bottom: 36 }, min: 20.05, max: 29.93, ticks: barTicks, width: 42, size: 30, color: "#000", tickPad: 5 }) as any,
      plugins: [frame({ color: "#000", width: 2, len: 3 })],
    } as any));

    return () => charts.forEach((c) => c.destroy());
  }, []);

  const canvas = (key: keyof typeof boxes) => {
    const b = boxes[key];
    return (
      <canvas ref={refs[key]} width={b.width} height={b.height}
        style={{ position: "absolute", left: b.left, top: b.top, width: b.width, height: b.height, display: "block" }} />
    );
  };

  return (
    <div style={{ position: "absolute", left: 0, top: 0, width: 1194, height: 992, overflow: "hidden", background: "#fff" }}>
      {canvas("c")}{canvas("cBar")}{canvas("a")}{canvas("aBar")}{canvas("b")}{canvas("bBar")}
      {panelTags.map((t) => (
        <div key={t.text} style={{ position: "absolute", left: t.left, top: t.top, font: "bold 30px 'Liberation Serif', serif", color: "#000" }}>{t.text}</div>
      ))}
      {bAxisWords.map((w) => (
        <div key={w.text} style={{ position: "absolute", left: w.left, top: w.top, transformOrigin: "0 0", transform: "rotate(-90deg)", font: "12.5px 'Liberation Sans', sans-serif", lineHeight: "14px", color: "#555", whiteSpace: "nowrap" }}>{w.text}</div>
      ))}
    </div>
  );
}
